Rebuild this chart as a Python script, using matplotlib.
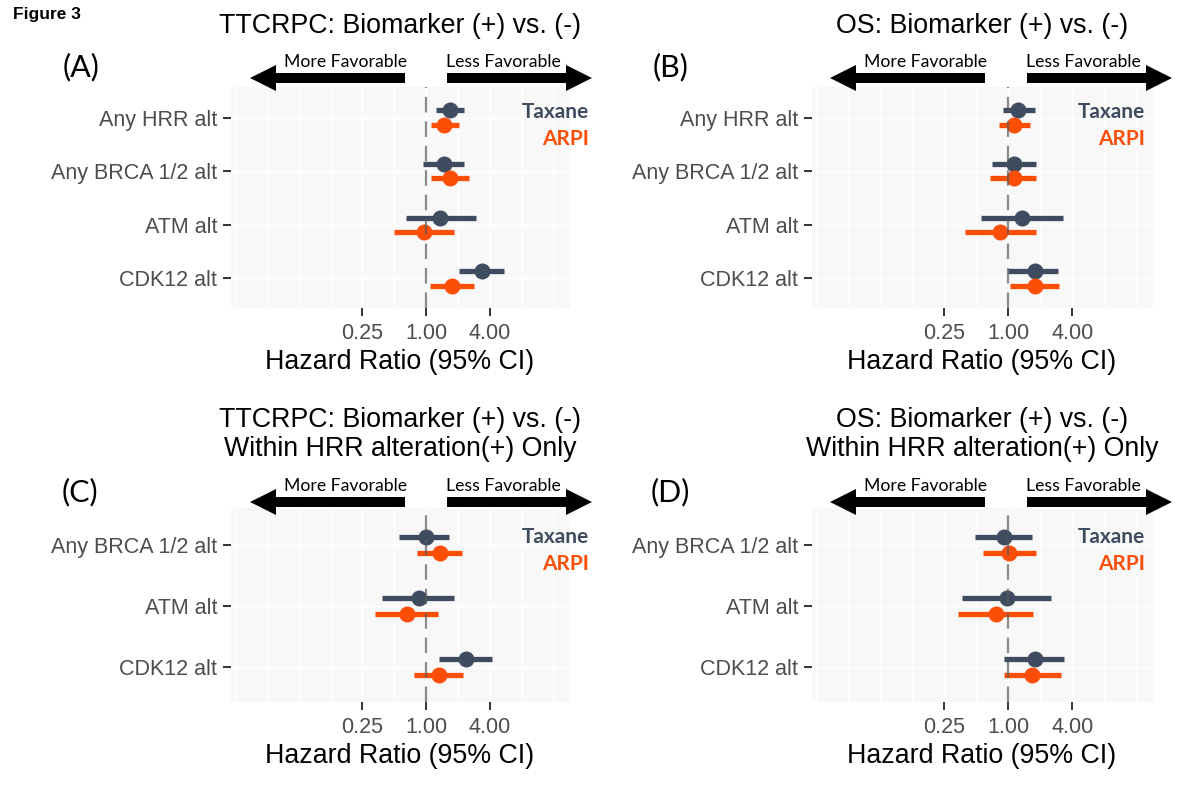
import numpy as np
import matplotlib
matplotlib.use('Agg')
import matplotlib.pyplot as plt
from matplotlib.patches import Polygon
from matplotlib.ticker import NullLocator

# Data (hazard ratios and 95% CI)
cats_top = ['Any HRR alt', 'Any BRCA 1/2 alt', 'ATM alt', 'CDK12 alt']
cats_bottom = ['Any BRCA 1/2 alt', 'ATM alt', 'CDK12 alt']

# (A) TTCRPC
a_tax = [1.67, 1.46, 1.34, 3.38]
a_tax_lo = [1.25, 0.93, 0.65, 2.03]
a_tax_hi = [2.28, 2.28, 2.94, 5.43]
a_arpi = [1.49, 1.67, 0.95, 1.77]
a_arpi_lo = [1.11, 1.11, 0.50, 1.08]
a_arpi_hi = [2.04, 2.52, 1.82, 2.84]

# (B) OS
b_tax = [1.23, 1.13, 1.35, 1.77]
b_tax_lo = [0.90, 0.70, 0.55, 1.00]
b_tax_hi = [1.77, 1.82, 3.29, 2.95]
b_arpi = [1.14, 1.13, 0.84, 1.78]
b_arpi_lo = [0.82, 0.68, 0.39, 1.04]
b_arpi_hi = [1.60, 1.81, 1.81, 3.00]

# (C) TTCRPC within HRR(+)
c_tax = [0.99, 0.85, 2.36]
c_tax_lo = [0.56, 0.38, 1.32]
c_tax_hi = [1.64, 1.83, 4.18]
c_arpi = [1.34, 0.66, 1.31]
c_arpi_lo = [0.82, 0.33, 0.76]
c_arpi_hi = [2.19, 1.30, 2.22]

# (D) OS within HRR(+)
d_tax = [0.91, 0.98, 1.78]
d_tax_lo = [0.49, 0.37, 0.91]
d_tax_hi = [1.68, 2.52, 3.36]
d_arpi = [1.01, 0.77, 1.68]
d_arpi_lo = [0.58, 0.34, 0.91]
d_arpi_hi = [1.81, 1.71, 3.11]

x_breaks = [0.25, 1, 4]
x_labels = ['0.25', '1.00', '4.00']

C_TAX = '#3F4B5E'
C_ARPI = '#FC4E07'

W, H = 1200, 789
fig = plt.figure(figsize=(12, 7.89), dpi=100)
fig.patch.set_facecolor('white')


def fxy(x, y):
    return (x / W, 1 - y / H)


def box(l, t, r, b):
    return [l / W, 1 - b / H, (r - l) / W, (b - t) / H]


def arrow(x_tail, x_tip, y, shaft=10, head_w=26, head_l=26):
    d = np.sign(x_tip - x_tail)
    xb = x_tip - d * head_l
    pts = [(x_tail, y - shaft / 2), (xb, y - shaft / 2), (xb, y - head_w / 2),
           (x_tip, y), (xb, y + head_w / 2), (xb, y + shaft / 2), (x_tail, y + shaft / 2)]
    fig.patches.append(Polygon([fxy(*p) for p in pts], closed=True,
                               transform=fig.transFigure, facecolor='black',
                               edgecolor='none'))


def draw_panel(rect, cats, tax, tax_lo, tax_hi, arpi, arpi_lo, arpi_hi, ylim, off):
    ax = fig.add_axes(rect)
    y = np.arange(len(cats))
    ax.set_facecolor('#F8F8F8')
    ax.set_xscale('log', base=2)
    ax.set_xlim(2 ** -6.13, 2 ** 4.52)
    ax.set_ylim(ylim)
    for k in range(-6, 5):
        ax.axvline(2.0 ** k, color='white', lw=1.0, zorder=0)
    for v in y:
        ax.axhline(v, color='white', lw=1.0, zorder=0)
    ax.hlines(y - off, tax_lo, tax_hi, color=C_TAX, lw=3.8, zorder=2)
    ax.plot(tax, y - off, 'o', color=C_TAX, ms=10.5, zorder=3)
    ax.hlines(y + off, arpi_lo, arpi_hi, color=C_ARPI, lw=3.8, zorder=2)
    ax.plot(arpi, y + off, 'o', color=C_ARPI, ms=10.5, zorder=3)
    ax.axvline(1, color='#5A5A5A', lw=1.6, ls=(0, (7, 4)), alpha=0.7, zorder=4)
    ax.set_xticks(x_breaks)
    ax.set_xticklabels(x_labels)
    ax.xaxis.set_minor_locator(NullLocator())
    ax.set_yticks(y)
    ax.set_yticklabels(cats)
    ax.tick_params(length=5.5, width=1.4, color='#333333', labelcolor='#4D4D4D',
                   labelsize=15.5, pad=4.5)
    ax.tick_params(axis='x', pad=5)
    for lab in ax.get_xticklabels() + ax.get_yticklabels():
        lab.set_family('Liberation Sans')
    for s in ax.spines.values():
        s.set_visible(False)
    return ax


top_lim = (3.55, -0.57)
bot_lim = (2.57, -0.61)

draw_panel(box(231, 87, 570, 308), cats_top, a_tax, a_tax_lo, a_tax_hi,
           a_arpi, a_arpi_lo, a_arpi_hi, top_lim, 0.135)
draw_panel(box(812, 87, 1153, 308), cats_top, b_tax, b_tax_lo, b_tax_hi,
           b_arpi, b_arpi_lo, b_arpi_hi, top_lim, 0.135)
draw_panel(box(231, 508, 570, 702), cats_bottom, c_tax, c_tax_lo, c_tax_hi,
           c_arpi, c_arpi_lo, c_arpi_hi, bot_lim, 0.135)
draw_panel(box(812, 508, 1153, 702), cats_bottom, d_tax, d_tax_lo, d_tax_hi,
           d_arpi, d_arpi_lo, d_arpi_hi, bot_lim, 0.135)

title_font = dict(family='Liberation Sans', size=19.3, color='black', ha='center', va='center')
fig.text(*fxy(400, 26), 'TTCRPC: Biomarker (+) vs. (-)', **title_font)
fig.text(*fxy(982, 26), 'OS: Biomarker (+) vs. (-)', **title_font)
fig.text(*fxy(400, 420), 'TTCRPC: Biomarker (+) vs. (-)', **title_font)
fig.text(*fxy(400, 449), 'Within HRR alteration(+) Only', **title_font)
fig.text(*fxy(982, 420), 'OS: Biomarker (+) vs. (-)', **title_font)
fig.text(*fxy(982, 449), 'Within HRR alteration(+) Only', **title_font)

for cx in (400, 982):
    fig.text(*fxy(cx, 362), 'Hazard Ratio (95% CI)', **title_font)
    fig.text(*fxy(cx, 756), 'Hazard Ratio (95% CI)', **title_font)

fig.text(*fxy(13, 14), 'Figure 3', family='Liberation Sans', weight='bold',
         size=12.5, va='center', ha='left')

lab_font = dict(family='Lato', size=22, ha='center', va='center')
fig.text(*fxy(81, 67), '(A)', **lab_font)
fig.text(*fxy(671, 67), '(B)', **lab_font)
fig.text(*fxy(80, 492), '(C)', **lab_font)
fig.text(*fxy(670, 492), '(D)', **lab_font)

arr_font = dict(family='Lato', size=12.7, ha='center', va='center')
for dx in (0, 580):
    for ya, yt in ((78, 62), (502, 486)):
        arrow(405 + dx, 250 + dx, ya)
        arrow(447 + dx, 592 + dx, ya)
        fig.text(*fxy(345 + dx, yt), 'More Favorable', **arr_font)
        fig.text(*fxy(503 + dx, yt), 'Less Favorable', **arr_font)

leg_font = dict(family='Lato', weight='bold', size=15, ha='right', va='center')
for xr, yt in ((589, 112), (1145, 112), (589, 537), (1145, 537)):
    fig.text(*fxy(xr, yt), 'Taxane', color=C_TAX, **leg_font)
    fig.text(*fxy(xr, yt + 27), 'ARPI', color=C_ARPI, **leg_font)

fig.savefig('out.png', dpi=100)
